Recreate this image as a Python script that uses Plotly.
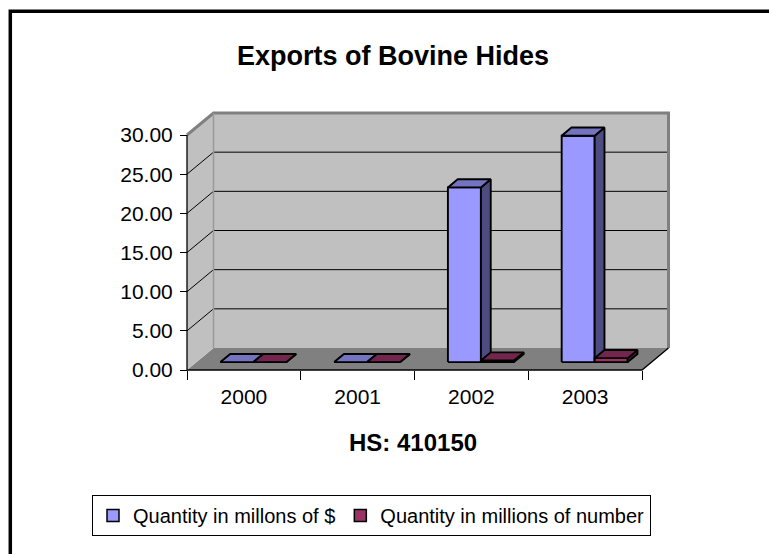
import plotly.graph_objects as go

# ---------------- data ----------------
years = ["2000", "2001", "2002", "2003"]
value_usd = [0.0, 0.0, 22.3, 28.9]          # Quantity in millons of $
value_num = [0.0, 0.0, 0.2, 0.5]            # Quantity in millions of number
series_names = ["Quantity in millons of $", "Quantity in millions of number"]
y_ticks = [0, 5, 10, 15, 20, 25, 30]

# ---------------- styling / geometry constants ----------------
W, H = 769, 554
FONT = "Liberation Sans, Arial, sans-serif"
UX = 113.75            # px per category unit
UY = 235 / 30          # px per value unit
X0PX, Y0PX = 187, 370  # pixel of x=-0.5 and y=0 (front plane)
PL, PR, PT, PB = 170, 695, 98, 390   # plot-area pixel box
DX = 26.5 / UX          # full depth offset (x units)
DY = 22 / UY            # full depth offset (value units)
F = 0.36                # bar front depth fraction
BW = 33 / UX            # bar width
BDX, BDY = 0.37 * DX, 0.37 * DY   # bar depth
YMAX = y_ticks[-1]
n = len(years)
XL, XR = -0.5, n - 0.5

face_colors = [
    ("#9999FF", "#4C4C80", "#7373C0"),   # front, side, top
    ("#993366", "#4D1A33", "#73264D"),
]

fig = go.Figure()

def poly(xs, ys, fill, line_color="rgba(0,0,0,0)", lw=0):
    fig.add_trace(go.Scatter(
        x=xs + [xs[0]], y=ys + [ys[0]], mode="lines", fill="toself",
        fillcolor=fill, line=dict(color=line_color, width=lw),
        hoverinfo="skip", showlegend=False))

def line(xs, ys, color, lw):
    fig.add_trace(go.Scatter(x=xs, y=ys, mode="lines",
                             line=dict(color=color, width=lw),
                             hoverinfo="skip", showlegend=False))

# floor, side wall, back wall
poly([XL, XR, XR + DX, XL + DX], [0, 0, DY, DY], "#808080")
poly([XL, XL, XL + DX, XL + DX], [0, YMAX, YMAX + DY, DY], "#C0C0C0")
poly([XL + DX, XR + DX, XR + DX, XL + DX], [DY, DY, YMAX + DY, YMAX + DY], "#C0C0C0")

# gridlines (back wall + side wall)
gx, gy = [], []
for t in y_ticks[1:-1]:
    gx += [XL, XL + DX, XR + DX, None]
    gy += [t, t + DY, t + DY, None]
line(gx, gy, "black", 1)

# wall edges
line([XL, XL + DX, XR + DX, XR + DX], [YMAX, YMAX + DY, YMAX + DY, DY], "#808080", 3)
line([XL + DX, XL + DX], [DY, YMAX + DY], "#9A9A9A", 1.5)
# front edges (axis lines)
line([XL, XL], [0, YMAX], "black", 1.3)
line([XL, XR, XR + DX], [0, 0, DY], "black", 1.3)

# bars
series_vals = [value_usd, value_num]
for i in range(n):
    for s, vals in enumerate(series_vals):
        v = vals[i]
        xl = i + (s - 1) * BW + F * DX
        xr = xl + BW
        b = F * DY
        t = b + v
        front, side, top = face_colors[s]
        poly([xl, xr, xr, xl], [b, b, t, t], front, "black", 1.9)
        poly([xr, xr, xr + BDX, xr + BDX], [b, t, t + BDY, b + BDY], side, "black", 1.9)
        poly([xl, xr, xr + BDX, xl + BDX], [t, t, t + BDY, t + BDY], top, "black", 1.9)

# legend entries
for s, name in enumerate(series_names):
    fig.add_trace(go.Bar(x=[None], y=[None], name=name,
                         marker=dict(color=face_colors[s][0],
                                     line=dict(color="black", width=1.5))))

xr0 = XL - (X0PX - PL) / UX
xr1 = XL + (PR - X0PX) / UX
yr0 = -(PB - Y0PX) / UY
yr1 = (Y0PX - PT) / UY

fig.update_layout(
    width=W, height=H, autosize=False,
    margin=dict(l=0, r=0, t=0, b=0),
    paper_bgcolor="white", plot_bgcolor="rgba(0,0,0,0)",
    font=dict(family=FONT, color="black", size=20),
    xaxis=dict(domain=[PL / W, PR / W], range=[xr0, xr1], anchor="free",
               position=1 - Y0PX / H, showgrid=False, zeroline=False,
               showline=False, tickmode="array", tickvals=list(range(n)),
               ticktext=years, ticks="", tickfont=dict(size=21),
               ticklabelstandoff=12,
               minor=dict(tickmode="array", tickvals=[k - 0.5 for k in range(n + 1)],
                          ticks="outside", ticklen=9, tickcolor="black",
                          tickwidth=1.3, showgrid=False),
               fixedrange=True),
    yaxis=dict(domain=[1 - PB / H, 1 - PT / H], range=[yr0, yr1], anchor="free",
               position=X0PX / W, showgrid=False, zeroline=False, showline=False,
               tickmode="array", tickvals=y_ticks, tickformat=".2f",
               ticks="outside", ticklen=7, tickcolor="black", tickwidth=1.3,
               tickfont=dict(size=21), ticklabelstandoff=3, fixedrange=True),
    barmode="overlay",
    showlegend=True,
    legend=dict(orientation="h", x=92 / W, y=1 - 495 / H, xanchor="left",
                yanchor="top", bordercolor="black", borderwidth=1,
                bgcolor="white", font=dict(size=20), traceorder="normal",
                itemwidth=30),
    annotations=[
        dict(text="<b>Exports of Bovine Hides</b>", x=393 / W, y=1 - 56 / H,
             xref="paper", yref="paper", xanchor="center", yanchor="middle",
             showarrow=False, font=dict(size=27)),
        dict(text="<b>HS: 410150</b>", x=413 / W, y=1 - 442 / H,
             xref="paper", yref="paper", xanchor="center", yanchor="middle",
             showarrow=False, font=dict(size=24)),
    ],
    shapes=[dict(type="rect", xref="paper", yref="paper",
                 x0=10.3 / W, x1=1.02, y0=-0.02, y1=1 - 11.3 / H,
                 line=dict(color="black", width=3.5), layer="above")],
)

fig.write_html("out.html")
